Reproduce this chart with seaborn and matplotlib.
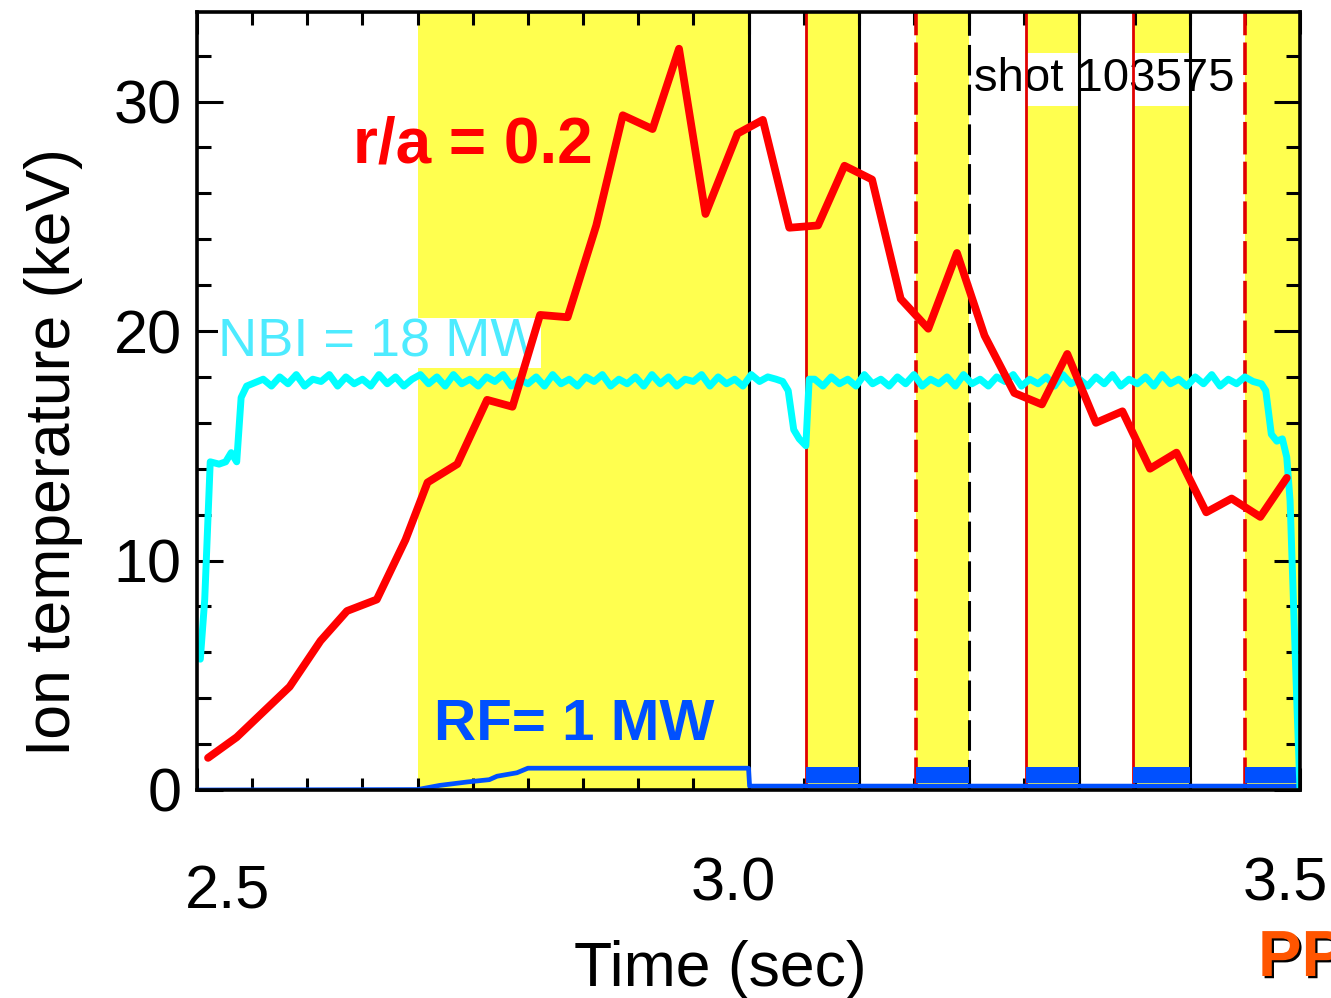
"""
Ion temperature vs time for shot 103575, with NBI and modulated RF heating windows.
"""

import matplotlib
matplotlib.use("Agg")
import matplotlib.pyplot as plt
import matplotlib.patheffects as pe
from matplotlib.ticker import MultipleLocator
from matplotlib.transforms import ScaledTranslation
import numpy as np
import pandas as pd
import seaborn as sns

# ion temperature at r/a = 0.2 (keV)
ti_time = [2.510, 2.536, 2.584, 2.612, 2.636, 2.663, 2.689, 2.709, 2.736, 2.763,
           2.786, 2.811, 2.836, 2.862, 2.886, 2.913, 2.937, 2.961, 2.990, 3.013,
           3.037, 3.063, 3.087, 3.112, 3.138, 3.163, 3.189, 3.214, 3.241, 3.266,
           3.289, 3.315, 3.339, 3.364, 3.388, 3.415, 3.438, 3.464, 3.488]
ti_vals = [1.4, 2.3, 4.5, 6.5, 7.8, 8.3, 10.9, 13.4, 14.2, 17.0,
           16.7, 20.7, 20.6, 24.6, 29.4, 28.8, 32.3, 25.1, 28.6, 29.2,
           24.5, 24.6, 27.2, 26.6, 21.4, 20.1, 23.4, 19.8, 17.3, 16.8,
           19.0, 16.0, 16.5, 14.0, 14.7, 12.1, 12.7, 11.9, 13.6]

# NBI trace (scaled onto the keV axis): ramp-up, two sampled plateaus, notch and turn-off
nbi_ramp_t = [2.503, 2.507, 2.512, 2.520, 2.526, 2.531, 2.536, 2.540, 2.545, 2.550]
nbi_ramp_v = [5.7, 8.3, 14.3, 14.2, 14.3, 14.7, 14.3, 17.1, 17.6, 17.7]
nbi_plat1_start = 2.56
nbi_plat1_v = [17.9, 17.6, 18.0, 17.7, 18.1, 17.6, 17.9, 17.8, 18.1, 17.6,
               18.0, 17.7, 17.9, 17.6, 18.1, 17.7, 18.0, 17.6, 17.9, 18.1,
               17.7, 18.0, 17.6, 18.1, 17.7, 17.9, 17.6, 18.0, 17.8, 18.1,
               17.6, 17.9, 17.7, 18.0, 17.6, 18.1, 17.7, 17.9, 17.6, 18.0,
               17.8, 18.1, 17.6, 17.9, 17.7, 18.0, 17.6, 18.1, 17.7, 18.0,
               17.6, 17.9, 17.8, 18.1, 17.6, 18.0, 17.7, 17.9, 17.6, 18.1,
               17.8, 18.0, 17.9]
nbi_notch_t = [3.031, 3.036, 3.041, 3.046, 3.052, 3.055]
nbi_notch_v = [17.8, 17.4, 15.7, 15.3, 15.0, 17.9]
nbi_plat2_start = 3.06
nbi_plat2_v = [17.9, 17.6, 18.0, 17.7, 17.9, 17.6, 18.1, 17.7, 17.9, 17.6,
               18.0, 17.7, 18.1, 17.6, 17.9, 17.7, 18.0, 17.6, 18.1, 17.7,
               17.9, 17.6, 18.0, 17.8, 18.1, 17.6, 17.9, 17.7, 18.0, 17.6,
               18.1, 17.7, 17.9, 17.6, 18.0, 17.7, 18.1, 17.6, 17.9, 17.7,
               18.0, 17.6, 18.1, 17.7, 17.9, 17.6, 18.0, 17.7, 18.1, 17.6,
               17.9, 17.7, 18.0, 17.8]
nbi_off_t = [3.465, 3.469, 3.474, 3.479, 3.484, 3.488, 3.491, 3.497, 3.500]
nbi_off_v = [17.7, 17.4, 15.5, 15.2, 15.3, 14.5, 12.6, 4.0, 0.0]
nbi_step = 0.0075

# RF trace (scaled onto the keV axis)
rf_time = [2.500, 2.700, 2.720, 2.745, 2.765, 2.772, 2.790, 2.800, 3.000, 3.001, 3.499, 3.500]
rf_vals = [0.0, 0.02, 0.2, 0.35, 0.45, 0.6, 0.75, 0.95, 0.95, 0.17, 0.17, 0.0]
rf_mod_lo = 0.3
rf_mod_hi = 1.0

# RF windows
rf_cw_window = (2.70, 3.00)
mod_start = [3.052, 3.152, 3.252, 3.349, 3.450]
mod_end = [3.100, 3.200, 3.300, 3.400, 3.500]
mod_start_dashed = [False, True, False, False, True]
period_marks = [3.0, 3.1, 3.2, 3.3, 3.4, 3.5]
period_dashed = [False, False, True, False, False, False]

x_ticks = [2.5, 3.0, 3.5]
x_tick_labels = ["2.5", "3.0", "3.5"]
y_ticks = [0, 10, 20, 30]
y_tick_labels = ["0", "10", "20", "30"]

YELLOW = "#FFFF4F"
RED = "#FF0000"
DARK_RED = "#E00000"
CYAN = "#00FFFF"
BLUE = "#0050FF"

sns.set_theme(style="ticks")
plt.rcParams["font.family"] = ["Liberation Sans", "DejaVu Sans"]

fig = plt.figure(figsize=(13.31, 9.98), dpi=100)
ax = fig.add_axes([197 / 1331, 1 - 790 / 998, 1103 / 1331, 778 / 998])
ax.set_facecolor("white")

# heating windows
ax.axvspan(*rf_cw_window, color=YELLOW, lw=0, zorder=0.5)
for s, e in zip(mod_start, mod_end):
    ax.axvspan(s, e, color=YELLOW, lw=0, zorder=0.5)

for xm, dashed in zip(period_marks, period_dashed):
    ax.axvline(xm, color="black", lw=2.2, ls=(0, (10, 3)) if dashed else "-", zorder=2)
for xm, dashed in zip(mod_start, mod_start_dashed):
    ax.axvline(xm, color=DARK_RED, lw=2.6 if dashed else 2.0,
               ls=(0, (9, 2)) if dashed else "-", zorder=2)

# traces
nbi_t = np.concatenate([
    nbi_ramp_t,
    nbi_plat1_start + nbi_step * np.arange(len(nbi_plat1_v)),
    nbi_notch_t,
    nbi_plat2_start + nbi_step * np.arange(len(nbi_plat2_v)),
    nbi_off_t,
])
nbi_v = np.concatenate([nbi_ramp_v, nbi_plat1_v, nbi_notch_v, nbi_plat2_v, nbi_off_v])
df_nbi = pd.DataFrame({"t": nbi_t, "v": nbi_v})
df_ti = pd.DataFrame({"t": ti_time, "v": ti_vals})
df_rf = pd.DataFrame({"t": rf_time, "v": rf_vals})

for s, e in zip(mod_start, mod_end):
    ax.fill_between([s, e], [rf_mod_lo, rf_mod_lo], [rf_mod_hi, rf_mod_hi],
                    color=BLUE, lw=0, zorder=3)
sns.lineplot(data=df_rf, x="t", y="v", ax=ax, color=BLUE, lw=3.4,
             estimator=None, sort=False, zorder=3)
sns.lineplot(data=df_nbi, x="t", y="v", ax=ax, color=CYAN, lw=5.0,
             estimator=None, sort=False, zorder=3)
sns.lineplot(data=df_ti, x="t", y="v", ax=ax, color=RED, lw=5.6,
             estimator=None, sort=False, zorder=3)

# annotations
ax.text(2.6414, 27.34, "r/a = 0.2", color=RED, fontsize=46, fontweight="bold",
        ha="left", va="baseline", zorder=4)
ax.text(2.7149, 2.18, "RF= 1 MW", color=BLUE, fontsize=42, fontweight="bold",
        ha="left", va="baseline", zorder=4)
ax.text(2.519, 18.88, "NBI = 18 MW", color="#4DEBFF", fontsize=39,
        ha="left", va="baseline", zorder=1,
        bbox=dict(boxstyle="square,pad=0.0", fc="white", ec="none"))
ax.text(3.2044, 30.44, "shot 103575", color="black", fontsize=34,
        ha="left", va="baseline", zorder=1,
        bbox=dict(boxstyle="square,pad=0.1", fc="white", ec="none"))

# axes
ax.set_xlim(2.5, 3.5)
ax.set_ylim(0, 33.9)
ax.set_xticks(x_ticks)
ax.set_xticklabels(x_tick_labels)
ax.set_yticks(y_ticks)
ax.set_yticklabels(y_tick_labels)
ax.xaxis.set_minor_locator(MultipleLocator(0.05))
ax.yaxis.set_minor_locator(MultipleLocator(2))
ax.tick_params(axis="both", which="both", direction="in", top=True, right=True,
               colors="black", width=2.2, labelsize=44)
ax.tick_params(axis="x", which="major", length=16, pad=48)
ax.tick_params(axis="x", which="minor", length=9)
ax.tick_params(axis="y", which="major", length=19, pad=11)
ax.tick_params(axis="y", which="minor", length=10)
for sp in ax.spines.values():
    sp.set_linewidth(2.6)
    sp.set_color("black")
    sp.set_zorder(5)

label_offsets = [(31, -8), (-15, 0), (-15, 0)]
for lbl, (dx, dy) in zip(ax.get_xticklabels(), label_offsets):
    lbl.set_transform(lbl.get_transform() + ScaledTranslation(dx / 100, dy / 100, fig.dpi_scale_trans))

ax.set_xlabel("Time (sec)", fontsize=45, color="black")
ax.set_ylabel("Ion temperature (keV)", fontsize=45, color="black")
ax.xaxis.set_label_coords(0.474, -0.193)
ax.yaxis.set_label_coords(-0.1034, 0.4344)

# corner logo, partly off the right edge as in the original slide
fig.text(1258 / 1331, 1 - 976 / 998, "PP", color="#FF5500", fontsize=47,
         fontweight="bold", ha="left", va="baseline",
         path_effects=[pe.withSimplePatchShadow(offset=(1.6, -1.6), shadow_rgbFace="black", alpha=1.0)])

fig.savefig("out.png", dpi=100)
plt.close(fig)
